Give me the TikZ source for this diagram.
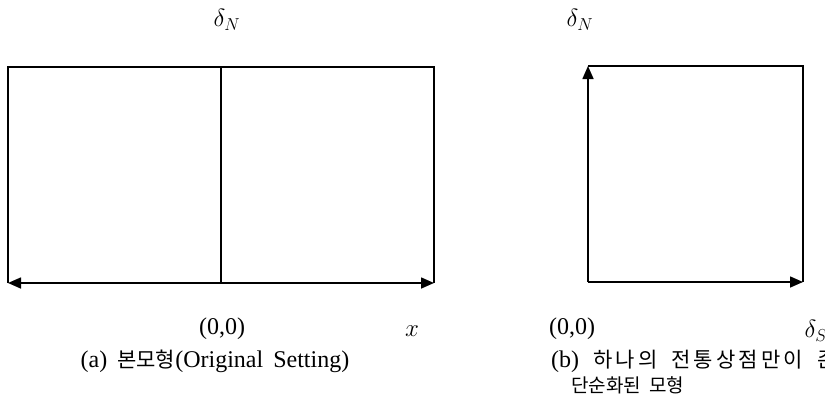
\documentclass[tikz,border=0pt]{standalone}
\usepackage{amsmath}
\usepackage{fontspec}
\setmainfont{Liberation Serif}
\newfontfamily\hangul[LetterSpace=15]{Noto Sans CJK KR}
\newfontfamily\hangulnarrow{Noto Sans CJK KR}
\newcommand{\kr}[1]{{\fontsize{21}{25}\selectfont\hangul #1}}
\usetikzlibrary{arrows.meta}

\begin{document}
\begin{tikzpicture}[x=1pt,y=-1pt,
		frame/.style={line width=1.6pt},
		axis/.style={line width=1.6pt,-{Triangle[length=13pt,width=11pt]}},
		lbl/.style={font=\fontsize{24}{28}\selectfont,inner sep=0pt},
		sym/.style={font=\fontsize{27}{30}\selectfont,inner sep=0pt}]
	\useasboundingbox (0,0) rectangle (825,413);
	\begin{scope}
	\clip (0,0) rectangle (825,413);
	% (a) the original setting
	\coordinate (aTL) at (8,67);
	\coordinate (aTR) at (434,67);
	\coordinate (aBL) at (8,283);
	\coordinate (aBR) at (434,283);
	\coordinate (aTM) at (221,67);
	\coordinate (aBM) at (221,283);
	\draw[frame] (aBL) -- (aTL) -- (aTR) -- (aBR);
	\draw[frame] (aTM) -- (aBM);
	\draw[axis,{Triangle[length=13pt,width=11pt]}-{Triangle[length=13pt,width=11pt]}] (aBL) -- (aBR);
	\node[sym] (aN) at (227,20) {$\delta_N$};
	\node[lbl] (aO) at (222,329) {(0,0)};
	\node[sym] (aX) at (412,331) {$x$};
	\node[lbl] (aCap) at (215,361) {(a)\hspace{10pt}{\fontsize{21}{25}\selectfont\hangulnarrow 본모형}(Original\hspace{10pt}Setting)};
	% (b) only one traditional store
	\coordinate (bTL) at (588,66);
	\coordinate (bTR) at (803,66);
	\coordinate (bBL) at (588,282);
	\coordinate (bBR) at (803,282);
	\draw[frame] (bTL) -- (bTR) -- (bBR);
	\draw[axis] (bBL) -- (bTL);
	\draw[axis] (bBL) -- (bBR);
	\node[sym] (bN) at (580,20) {$\delta_N$};
	\node[lbl] (bO) at (572,329) {(0,0)};
	\node[sym] (bS) at (816,331) {$\delta_S$};
	\node[lbl,anchor=west] (bCap) at (551,361) {(b)\hspace{14pt}\kr{하나의\hspace{14pt}전통상점만이\hspace{14pt}존재하는}};
	\node[lbl,anchor=west] (bCap2) at (571,385) {\fontsize{19}{23}\selectfont\hangulnarrow 단순화된\hspace{8pt}모형};
	\end{scope}
\end{tikzpicture}
\end{document}
